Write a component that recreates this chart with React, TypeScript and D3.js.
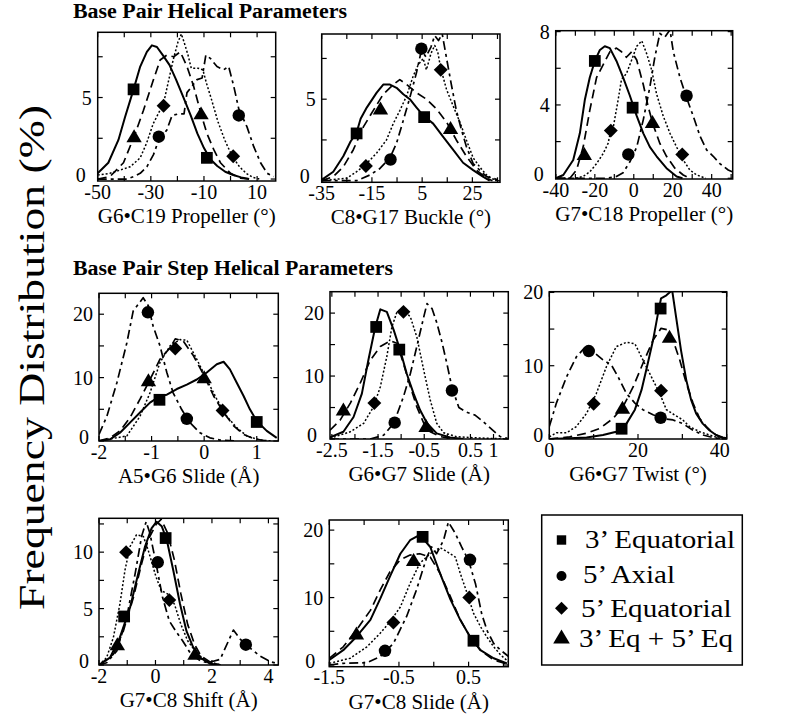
import React from "react";
import * as d3 from "d3";

type Pt = [number, number];

// ---------- Panel 1: G6•C19 Propeller ----------
const p1Eq3: Pt[] = [[-50,0.35],[-46,1.0],[-42.2,2.4],[-39.7,3.8],[-36.5,5.5],[-34,6.9],[-31.5,7.8],[-29.6,8.2],[-27.7,8.1],[-25.5,7.6],[-23,7.0],[-20.5,6.1],[-17.7,5.0],[-15,3.9],[-12.5,2.8],[-10,1.9],[-7.5,1.2],[-5,0.8],[-2,0.45],[1,0.25],[4,0.1],[7,0]];
const p1Ax5: Pt[] = [[-50,0],[-39,0],[-36.5,0.15],[-34,0.35],[-31.5,0.75],[-29,1.5],[-27,2.4],[-24,3.0],[-22,3.9],[-19.5,4.0],[-17.5,4.0],[-16.4,5.3],[-14.5,5.7],[-12.6,6.1],[-10.7,6.2],[-9.3,7.6],[-7.6,7.4],[-5.1,6.9],[-2.6,6.7],[-0.7,6.9],[1.2,5.7],[3.1,4.3],[6.2,3.2],[8.7,2.0],[11.3,1.0],[13.8,0.35],[16.3,0.15]];
const p1Eq5: Pt[] = [[-50,0.25],[-45.4,0.35],[-41.6,0.55],[-37.8,0.75],[-34,1.3],[-31.6,2.2],[-29.1,3.4],[-26.6,4.2],[-25.4,4.5],[-23.5,5.9],[-21.6,7.3],[-19.8,8.4],[-18.5,8.9],[-17.3,8.3],[-16,7.6],[-14.8,6.8],[-12.3,6.8],[-10.4,6.7],[-9.1,5.9],[-7.2,4.9],[-4.7,3.5],[-2.2,2.4],[0.6,1.4],[3.4,0.75],[5.9,0.35],[8.4,0.1],[10.9,0]];
const p1Both: Pt[] = [[-50,0],[-45.4,0.15],[-40.3,1.0],[-36.3,2.6],[-32.8,4.2],[-29,6.1],[-26.5,7.3],[-24,7.6],[-21.4,7.5],[-18.9,7.8],[-16.4,6.9],[-13.9,5.7],[-11.1,4.0],[-8.9,2.8],[-6.3,1.8],[-3.8,1.0],[0,0.35],[3.7,0.05],[7.5,0]];
const p1Eq3Mk: Pt[] = [[-36.5,5.5],[-8.9,1.3]];
const p1Ax5Mk: Pt[] = [[-27,2.6],[3.1,3.9]];
const p1Eq5Mk: Pt[] = [[-25.2,4.5],[1,1.4]];
const p1BothMk: Pt[] = [[-36.3,2.6],[-11.1,4.0]];

// ---------- Panel 2: C8•G17 Buckle ----------
const p2Eq3: Pt[] = [[-35,0.05],[-30.4,0.55],[-26.4,1.5],[-23.5,2.4],[-21.1,2.95],[-19.5,3.8],[-17,4.5],[-13.1,5.4],[-10.5,5.9],[-7.8,5.9],[-5.2,5.7],[-2.5,5.3],[0.1,5.0],[2.7,4.5],[5.4,4.0],[9.4,3.5],[13.3,2.7],[17.3,1.9],[21.3,1.1],[25.3,0.65],[29.2,0.25],[31.9,0]];
const p2Ax5: Pt[] = [[-35,0],[-21.1,0],[-15.8,0.35],[-11.8,0.75],[-7.8,1.4],[-5.2,2.3],[-2.5,3.7],[0.1,5.1],[2.7,6.6],[4.7,8.0],[6.5,7.6],[8.5,8.2],[10,8.9],[11.5,8.6],[13,9.0],[14.5,7.7],[16.5,6.0],[18.5,4.4],[20.5,3.2],[22.6,2.1],[25.3,1.05],[27.9,0.65],[30.6,0.25],[33.2,0.15],[36,0]];
const p2Eq5: Pt[] = [[-35,0],[-25,0.15],[-21.1,0.55],[-17.1,1.05],[-13.1,1.7],[-9.2,2.5],[-6.5,3.5],[-3.9,4.3],[-1.2,5.2],[1.4,6.4],[3.4,7.1],[5.4,7.5],[6.7,6.8],[8.5,7.8],[10,8.3],[11.2,7.9],[12.4,6.9],[14.7,5.6],[17.3,4.6],[20,3.6],[22.6,2.5],[25.3,1.4],[27.9,0.85],[30.6,0.35],[33.2,0.1],[36,0]];
const p2Both: Pt[] = [[-35,0],[-30.4,0.25],[-26.4,0.85],[-22.4,1.9],[-18.4,3.3],[-14.5,4.3],[-10.5,5.3],[-6.5,5.9],[-3.9,6.2],[-1.2,5.9],[2.7,5.4],[6.7,5.0],[10.7,4.4],[14.7,3.6],[18.6,2.5],[22.6,1.5],[26.6,0.65],[30.6,0.15],[33,0]];
const p2Eq3Mk: Pt[] = [[-21.1,2.9],[5.8,3.9]];
const p2Ax5Mk: Pt[] = [[-7.6,1.3],[4.7,8.1]];
const p2Eq5Mk: Pt[] = [[-17.4,0.9],[12.4,6.8]];
const p2BothMk: Pt[] = [[-11.6,4.4],[16.3,3.2]];

// ---------- Panel 3: G7•C18 Propeller ----------
const p3Eq3: Pt[] = [[-40,0],[-36.2,0.18],[-31.1,1.0],[-27.7,2.45],[-25.1,4.3],[-22.6,5.5],[-20,6.4],[-17.4,7.0],[-14.9,7.2],[-12.3,7.1],[-8.9,6.4],[-5.5,5.5],[-2,4.5],[1.5,3.4],[4.9,2.45],[8.3,1.7],[11.7,1.2],[16.8,0.55],[22,0.1],[25,0]];
const p3Ax5: Pt[] = [[-40,0],[-14,0],[-8.9,0.1],[-5.5,0.3],[-2,0.9],[1.5,1.7],[4.9,3.2],[8.3,5.0],[10.8,6.6],[13.4,7.9],[16,7.7],[18.6,8.1],[20.3,6.9],[23.7,5.5],[27.1,4.4],[30.5,3.4],[34,2.3],[37.4,1.55],[40.8,1.2],[44.2,0.8],[48.5,0.45],[50.5,0.35]];
const p3Eq5: Pt[] = [[-40,0],[-30,0],[-26,0.1],[-22.6,0.35],[-19.1,0.8],[-15.7,1.35],[-13.2,1.9],[-11.8,2.6],[-10.5,2.8],[-8,4.3],[-6.3,5.4],[-3.8,5.7],[-1.1,6.45],[1.5,7.2],[4.1,7.5],[6.6,6.8],[9.2,5.9],[11.7,4.6],[15.1,3.4],[18.6,2.45],[22,1.7],[25.4,1.0],[28.8,0.45],[32.3,0.18],[37,0]];
const p3Both: Pt[] = [[-40,0],[-32.8,0],[-29.4,0.45],[-26,1.7],[-22.6,3.7],[-19.1,5.5],[-15.7,6.2],[-12.3,6.9],[-8.9,7.1],[-6.3,6.9],[-3.8,6.6],[-1.1,6.9],[1.5,6.45],[4.9,5.1],[7.4,3.9],[10,2.9],[13.4,1.9],[16.8,1.2],[21.1,0.55],[25.4,0.18],[28.8,0]];
const p3Eq3Mk: Pt[] = [[-20,6.4],[-0.6,3.85]];
const p3Ax5Mk: Pt[] = [[-2.8,1.3],[27.1,4.5]];
const p3Eq5Mk: Pt[] = [[-11.8,2.6],[24.9,1.3]];
const p3BothMk: Pt[] = [[-25.4,1.3],[9.6,3.05]];

// ---------- Panel 4: A5•G6 Slide ----------
const p4Eq3: Pt[] = [[-2,0],[-1.79,0.26],[-1.6,1.3],[-1.41,2.9],[-1.22,4.5],[-1.03,6.05],[-0.84,7.1],[-0.71,7.3],[-0.52,8.2],[-0.33,8.9],[-0.14,9.7],[0.05,10.8],[0.24,12.1],[0.37,12.5],[0.49,11.3],[0.62,9.2],[0.75,7.1],[0.87,5.0],[1,3.15],[1.19,1.6],[1.38,0.5]];
const p4Ax5: Pt[] = [[-2,1.05],[-1.85,3.9],[-1.66,9.2],[-1.47,15.5],[-1.35,20.5],[-1.16,22.6],[-1.06,21.3],[-0.97,18.1],[-0.84,15.0],[-0.71,10.8],[-0.59,7.6],[-0.43,5.0],[-0.27,2.9],[-0.08,1.3],[0.11,0.5],[0.3,0.15],[0.6,0]];
const p4Eq5: Pt[] = [[-2,0],[-1.47,0.8],[-1.22,3.9],[-1.03,7.6],[-0.84,12.4],[-0.65,15.0],[-0.46,16.0],[-0.33,15.9],[-0.14,12.9],[0.05,9.7],[0.24,6.6],[0.43,3.9],[0.62,2.1],[0.81,0.8],[1.06,0.15],[1.3,0]];
const p4Both: Pt[] = [[-2,0],[-1.79,0.5],[-1.6,1.6],[-1.41,3.7],[-1.22,6.6],[-1.03,9.7],[-0.84,12.9],[-0.65,14.7],[-0.55,16.1],[-0.4,15.8],[-0.2,13.4],[0,10.3],[0.18,7.1],[0.37,4.5],[0.56,2.4],[0.75,1.05],[0.94,0.37],[1.2,0]];
const p4Eq3Mk: Pt[] = [[-0.85,6.5],[1,3.0]];
const p4Ax5Mk: Pt[] = [[-1.07,20.3],[-0.33,3.5]];
const p4Eq5Mk: Pt[] = [[-0.55,14.6],[0.35,4.8]];
const p4BothMk: Pt[] = [[-1.06,9.5],[0,10]];

// ---------- Panel 5: G6•G7 Slide ----------
const p5Eq3: Pt[] = [[-2.54,0.25],[-2.25,1.15],[-2.03,3.5],[-1.85,7.2],[-1.71,12.5],[-1.56,17.8],[-1.45,20.6],[-1.31,20.2],[-1.16,17.3],[-1.02,14.1],[-0.88,10.4],[-0.73,7.2],[-0.59,4.6],[-0.44,2.5],[-0.23,0.9],[0.06,0.25],[0.35,0]];
const p5Ax5: Pt[] = [[-2.54,0],[-1.67,0],[-1.38,0.6],[-1.16,2.5],[-0.95,6.7],[-0.8,10.4],[-0.66,14.7],[-0.51,19.4],[-0.44,21.5],[-0.33,20.7],[-0.23,18.5],[-0.12,15.5],[-0.01,12],[0.1,8.2],[0.25,5.0],[0.4,4.3],[0.6,3.8],[0.8,2.6],[1.0,1.3],[1.14,0.4],[1.3,0.1]];
const p5Eq5: Pt[] = [[-2.54,0.1],[-2.1,1.15],[-1.81,2.5],[-1.6,5.1],[-1.45,8.3],[-1.31,13.1],[-1.2,17.8],[-1.09,20.2],[-0.95,20.5],[-0.8,19.4],[-0.66,16.2],[-0.51,10.9],[-0.37,6.2],[-0.23,2.5],[-0.08,1.0],[0.2,0.37],[0.56,0.2],[0.92,0.1],[1.3,0]];
const p5Both: Pt[] = [[-2.54,1.4],[-2.32,3.0],[-2.1,5.7],[-1.89,8.8],[-1.67,12.5],[-1.45,14.7],[-1.23,15.6],[-1.09,15.2],[-0.95,12.0],[-0.8,8.3],[-0.66,5.1],[-0.51,2.5],[-0.37,1.15],[-0.15,0.37],[0.15,0]];
const p5Eq3Mk: Pt[] = [[-1.54,17.8],[-1.04,14.2]];
const p5Ax5Mk: Pt[] = [[-1.14,2.6],[0.1,7.7]];
const p5Eq5Mk: Pt[] = [[-1.58,5.7],[-0.95,20.2]];
const p5BothMk: Pt[] = [[-2.25,4.6],[-0.46,2.0]];

// ---------- Panel 6: G6•G7 Twist ----------
const p6Eq3: Pt[] = [[0,0],[4.6,0.1],[8.4,0.2],[12.1,0.55],[15.1,1.0],[17.4,2.1],[19.3,4.0],[20.8,6.7],[22.2,10.3],[23.4,13.5],[24.5,17.1],[25.2,19.2],[26.4,19.6],[27.7,20.3],[28.6,16.6],[29.7,12.1],[30.9,8.0],[32,5.3],[33.1,3.5],[34.6,2.1],[36.1,1.2],[37.6,0.55],[39.1,0.2],[40,0.1]];
const p6Ax5: Pt[] = [[0,1.7],[1.6,4.9],[3.9,8.5],[6.1,11.2],[7.9,12.4],[9.9,11.9],[12.1,10.8],[14,10.1],[15.5,8.5],[17.4,6.2],[19.3,4.9],[21.1,4.0],[23.4,3.3],[25.6,2.8],[27.9,2.6],[30.1,2.1],[32.4,1.2],[34.6,0.55],[36.9,0.2],[39,0]];
const p6Eq5: Pt[] = [[0,0.3],[1.6,0.85],[3.9,0.85],[6.1,1.7],[8.4,3.5],[10.6,6.2],[12.9,9.9],[15.1,12.6],[17.4,13.2],[19.3,13.0],[21.1,10.8],[23,8.5],[24.9,6.2],[26.4,4.0],[28.2,3.3],[30.1,2.6],[31.6,1.7],[33.9,1.0],[36.1,0.55],[38.4,0.1],[40,0]];
const p6Both: Pt[] = [[0,0],[4.6,0.3],[8.4,0.8],[11.4,1.45],[14.4,2.8],[16.6,4.4],[18.9,7.1],[21.1,10.3],[23.4,13.5],[25.2,15.1],[26.7,14.9],[27.9,13.5],[29.4,10.8],[30.9,7.6],[32.4,4.9],[33.9,2.8],[35.4,1.7],[36.9,0.8],[38.4,0.3],[40,0.05]];
const p6Eq3Mk: Pt[] = [[16.3,1.4],[25.1,17.8]];
const p6Ax5Mk: Pt[] = [[8.9,12.0],[25.1,2.9]];
const p6Eq5Mk: Pt[] = [[10,4.8],[25.2,6.6]];
const p6BothMk: Pt[] = [[16.5,4.2],[27.1,13.9]];

// ---------- Panel 7: G7•C8 Shift ----------
const p7Eq3: Pt[] = [[-2,0],[-1.61,0.65],[-1.26,2.45],[-0.9,5.1],[-0.61,8.1],[-0.37,10.5],[-0.14,12.1],[0.04,12.7],[0.22,12.3],[0.4,11.1],[0.63,8.4],[0.87,5.4],[1.1,3.0],[1.34,1.55],[1.58,0.65],[1.93,0.12],[2.3,0]];
const p7Ax5: Pt[] = [[-2,0],[-1.73,0.2],[-1.37,1.25],[-1.02,4.2],[-0.72,8.1],[-0.49,11.4],[-0.33,12.7],[-0.2,11.7],[0.02,9.0],[0.25,6.0],[0.49,3.9],[0.72,3.0],[0.96,2.15],[1.26,0.95],[1.61,0.35],[1.85,0.2],[2.29,0.5],[2.76,3.1],[3.0,2.3],[3.35,1.5],[3.7,0.8],[4.06,0.3],[4.35,0.1]];
const p7Eq5: Pt[] = [[-2,0],[-1.73,0.65],[-1.49,2.45],[-1.26,5.4],[-1.08,8.4],[-0.9,10.5],[-0.67,11.55],[-0.43,11.4],[-0.26,10.2],[0.02,7.8],[0.2,6.6],[0.43,6.3],[0.67,5.4],[0.9,3.6],[1.14,2.15],[1.49,0.95],[1.84,0.35],[2.3,0]];
const p7Both: Pt[] = [[-2,0],[-1.49,0.95],[-1.14,3.0],[-0.78,6.0],[-0.49,9.0],[-0.26,11.1],[0.02,12.45],[0.2,12.9],[0.43,11.7],[0.67,9.3],[0.9,6.3],[1.14,3.6],[1.38,1.85],[1.61,0.8],[1.97,0.2],[2.3,0]];
const p7Eq3Mk: Pt[] = [[0.36,11.25],[-1.11,4.3]];
const p7Ax5Mk: Pt[] = [[0.08,9.1],[3.2,1.8]];
const p7Eq5Mk: Pt[] = [[-1.04,10.0],[0.49,5.75]];
const p7BothMk: Pt[] = [[-1.35,1.8],[1.4,0.95]];

// ---------- Panel 8: G7•C8 Slide ----------
const p8Eq3: Pt[] = [[-1.5,0.75],[-1.3,2.2],[-1.11,4.2],[-0.91,6.7],[-0.77,9.8],[-0.63,13.1],[-0.48,16.5],[-0.34,18.5],[-0.2,19.3],[-0.05,17.5],[0.09,13.6],[0.24,9.7],[0.38,6.7],[0.52,4.2],[0.67,2.2],[0.86,1.0],[1.05,0.25]];
const p8Ax5: Pt[] = [[-1.5,0],[-1.3,0.25],[-0.96,0.35],[-0.77,1.25],[-0.58,3.2],[-0.39,7.2],[-0.25,11.1],[-0.1,16.0],[-0.03,17.5],[0.04,16.5],[0.14,18.5],[0.21,21.2],[0.31,19.5],[0.4,17.5],[0.5,15.5],[0.6,12],[0.69,7.5],[0.77,5],[0.86,3.2],[0.96,2.2],[1.07,1.3]];
const p8Eq5: Pt[] = [[-1.5,0.25],[-1.2,1.0],[-0.96,2.7],[-0.77,4.7],[-0.63,6.4],[-0.48,8.6],[-0.34,12.1],[-0.2,15.1],[-0.05,16.5],[0.09,17.4],[0.19,16.8],[0.31,16.0],[0.38,13.6],[0.48,10.6],[0.57,7.7],[0.67,5.7],[0.76,4.2],[0.86,2.7],[0.96,1.5],[1.07,0.5]];
const p8Both: Pt[] = [[-1.5,1.0],[-1.3,2.7],[-1.11,5.2],[-0.91,8.1],[-0.77,11.1],[-0.63,13.8],[-0.48,15.6],[-0.34,16.3],[-0.2,16.5],[-0.05,16.0],[0.09,13.6],[0.24,10.1],[0.38,6.7],[0.52,4.2],[0.67,2.2],[0.86,0.75],[1.05,0.15]];
const p8Eq3Mk: Pt[] = [[-0.16,19.0],[0.57,3.6]];
const p8Ax5Mk: Pt[] = [[-0.7,2.1],[0.52,15.6]];
const p8Eq5Mk: Pt[] = [[-0.58,6.3],[0.51,10.0]];
const p8BothMk: Pt[] = [[-1.11,4.6],[-0.29,15.5]];

// ---------- Axis titles, ticks, legend ----------
const axisTitles = [
  "G6•C19 Propeller (°)", "C8•G17 Buckle (°)", "G7•C18 Propeller (°)",
  "A5•G6 Slide (Å)", "G6•G7 Slide (Å)", "G6•G7 Twist (°)",
  "G7•C8 Shift (Å)", "G7•C8 Slide (Å)",
];
const xTickSets = [
  [-50,-40,-30,-20,-10,0,10],
  [-35,-25,-15,-5,5,15,25,35],
  [-40,-30,-20,-10,0,10,20,30,40,50],
  [-2,-1.5,-1,-0.5,0,0.5,1],
  [-2.5,-2,-1.5,-1,-0.5,0,0.5,1],
  [0,10,20,30,40],
  [-2,-1,0,1,2,3,4],
  [-1.5,-1,-0.5,0,0.5,1],
];
const xLabelSets = [
  [-50,-30,-10,10],
  [-35,-15,5,25],
  [-40,-20,0,20,40],
  [-2,-1,0,1],
  [-2.5,-1.5,-0.5,0.5,1],
  [0,20,40],
  [-2,0,2,4],
  [-1.5,-0.5,0.5],
];
const yTickSets = [
  [0,2.5,5,7.5],
  [0,2.5,5,7.5],
  [0,2,4,6,8],
  [0,5,10,15,20],
  [0,5,10,15,20],
  [0,5,10,15,20],
  [0,2.5,5,7.5,10,12.5],
  [0,5,10,15,20],
];
const yLabelSets = [
  [0,5],[0,5],[0,4,8],[0,10,20],[0,10,20],[0,10,20],[0,5,10],[0,10,20],
];
const legendLabels = ["3’ Equatorial", "5’ Axial", "5’ Equatorial", "3’ Eq + 5’ Eq"];
const sectionTitles = ["Base Pair Helical Parameters", "Base Pair Step Helical Parameters"];
const yAxisTitle = "Frequency Distribution (%)";

const seriesData: Pt[][][] = [
  [p1Eq3, p1Ax5, p1Eq5, p1Both],
  [p2Eq3, p2Ax5, p2Eq5, p2Both],
  [p3Eq3, p3Ax5, p3Eq5, p3Both],
  [p4Eq3, p4Ax5, p4Eq5, p4Both],
  [p5Eq3, p5Ax5, p5Eq5, p5Both],
  [p6Eq3, p6Ax5, p6Eq5, p6Both],
  [p7Eq3, p7Ax5, p7Eq5, p7Both],
  [p8Eq3, p8Ax5, p8Eq5, p8Both],
];
const markerData: Pt[][][] = [
  [p1Eq3Mk, p1Ax5Mk, p1Eq5Mk, p1BothMk],
  [p2Eq3Mk, p2Ax5Mk, p2Eq5Mk, p2BothMk],
  [p3Eq3Mk, p3Ax5Mk, p3Eq5Mk, p3BothMk],
  [p4Eq3Mk, p4Ax5Mk, p4Eq5Mk, p4BothMk],
  [p5Eq3Mk, p5Ax5Mk, p5Eq5Mk, p5BothMk],
  [p6Eq3Mk, p6Ax5Mk, p6Eq5Mk, p6BothMk],
  [p7Eq3Mk, p7Ax5Mk, p7Eq5Mk, p7BothMk],
  [p8Eq3Mk, p8Ax5Mk, p8Eq5Mk, p8BothMk],
];

// ---------- Layout (pixels) ----------
type Layout = { box: [number, number, number, number]; xd: [number, number]; yd: [number, number]; lastLabelDx?: number; zeroDx: number };
const layouts: Layout[] = [
  { box: [97.7, 32.3, 275.7, 181], xd: [-50, 17], yd: [-0.12, 9], zeroDx: -12 },
  { box: [321.7, 34, 500, 182.3], xd: [-35, 36], yd: [-0.1, 9], zeroDx: -12 },
  { box: [555.7, 30.7, 732.7, 179], xd: [-40.1, 50.8], yd: [-0.04, 8.05], zeroDx: -12 },
  { box: [99, 293.3, 278.3, 441], xd: [-2, 1.41], yd: [0, 23.3], zeroDx: -10 },
  { box: [330, 291.7, 508.3, 439], xd: [-2.54, 1.32], yd: [0, 23.4], zeroDx: -13 },
  { box: [549.3, 291.7, 726.7, 439], xd: [0, 40], yd: [0, 20.1], lastLabelDx: -7, zeroDx: -6 },
  { box: [99, 518.3, 278.3, 665], xd: [-2, 4.35], yd: [0, 13], zeroDx: -10 },
  { box: [329.3, 520, 508.3, 666.7], xd: [-1.5, 1.07], yd: [-0.25, 21.5], zeroDx: -14 },
];

const FONT = "'Liberation Serif', 'Times New Roman', Times, serif";
const lineStyles = [
  { dash: undefined as string | undefined, w: 2.0 },
  { dash: "9,4,3,4", w: 1.7 },
  { dash: "2,2", w: 1.5 },
  { dash: "9,5", w: 1.7 },
];
const kinds = ["square", "circle", "diamond", "triangle"];

function Marker({ kind, x, y, s }: { kind: string; x: number; y: number; s: number }) {
  if (kind === "square") return <rect x={x - s * 0.49} y={y - s * 0.49} width={s * 0.98} height={s * 0.98} fill="#000" />;
  if (kind === "circle") return <circle cx={x} cy={y} r={s * 0.52} fill="#000" />;
  if (kind === "diamond") {
    const h = s * 0.58;
    return <polygon points={`${x},${y - h} ${x + h},${y} ${x},${y + h} ${x - h},${y}`} fill="#000" />;
  }
  const hw = s * 0.64, up = s * 0.62, dn = s * 0.46;
  return <polygon points={`${x},${y - up} ${x + hw},${y + dn} ${x - hw},${y + dn}`} fill="#000" />;
}

function Panel({ i }: { i: number }) {
  const { box, xd, yd, lastLabelDx, zeroDx } = layouts[i];
  const [l, t, r, b] = box;
  const x = d3.scaleLinear().domain(xd).range([l, r]);
  const y = d3.scaleLinear().domain(yd).range([b, t]);
  const line = d3.line<Pt>().x((d) => x(d[0])).y((d) => y(d[1]));
  const clipId = `clip${i}`;
  const tk = 5;
  const cx = (l + r) / 2;
  const xl = xLabelSets[i];
  return (
    <g>
      <defs>
        <clipPath id={clipId}>
          <rect x={l} y={t} width={r - l} height={b - t} />
        </clipPath>
      </defs>
      <g clipPath={`url(#${clipId})`}>
        {seriesData[i].map((d, k) => (
          <path key={k} d={line(d) || ""} fill="none" stroke="#000" strokeWidth={lineStyles[k].w}
            strokeDasharray={lineStyles[k].dash} strokeLinejoin="round" />
        ))}
      </g>
      {markerData[i].map((ms, k) =>
        ms.map((m, j) => <Marker key={`${k}-${j}`} kind={kinds[k]} x={x(m[0])} y={y(m[1])} s={12} />)
      )}
      <rect x={l} y={t} width={r - l} height={b - t} fill="none" stroke="#000" strokeWidth={1.5} />
      {xTickSets[i].map((v) => (
        <g key={`xt${v}`}>
          <line x1={x(v)} x2={x(v)} y1={b} y2={b - tk} stroke="#000" strokeWidth={1.2} />
          <line x1={x(v)} x2={x(v)} y1={t} y2={t + tk} stroke="#000" strokeWidth={1.2} />
        </g>
      ))}
      {yTickSets[i].map((v) => (
        <g key={`yt${v}`}>
          <line x1={l} x2={l + tk} y1={y(v)} y2={y(v)} stroke="#000" strokeWidth={1.2} />
          <line x1={r} x2={r - tk} y1={y(v)} y2={y(v)} stroke="#000" strokeWidth={1.2} />
        </g>
      ))}
      {xl.map((v, j) => (
        <text key={`xl${v}`} x={x(v) + (j === xl.length - 1 && lastLabelDx ? lastLabelDx : 0)} y={b + 17.5}
          fontSize={20} textAnchor="middle">{String(v)}</text>
      ))}
      {yLabelSets[i].map((v) => (
        <text key={`yl${v}`} x={l + (v === 0 ? zeroDx : -6)} y={y(v) + (v === 0 ? 2.5 : 7)} fontSize={20} textAnchor="end">{String(v)}</text>
      ))}
      <text x={cx} y={b + 42} fontSize={21} textAnchor="middle">{axisTitles[i]}</text>
    </g>
  );
}

export default function App() {
  const legendRows = [548, 582.5, 617, 646.5];
  const legendSymY = [540, 576, 608.3, 637.5];
  const legendTextX = [585, 583, 581, 579];
  const legendTextW = [150, 92, 150.5, 154];
  const legendSym = [9.6, 9.6, 11.2, 13];
  return (
    <svg width={785} height={719} viewBox="0 0 785 719"
      style={{ position: "absolute", left: 0, top: 0, background: "#fff" }}
      fontFamily={FONT} fill="#000">
      <text x={73} y={17.5} fontSize={20} fontWeight="bold" textLength={274} lengthAdjust="spacingAndGlyphs">{sectionTitles[0]}</text>
      <text x={73} y={275} fontSize={20} fontWeight="bold" textLength={320} lengthAdjust="spacingAndGlyphs">{sectionTitles[1]}</text>
      <text transform="translate(44,357.5) rotate(-90)" fontSize={36} textAnchor="middle" textLength={505} lengthAdjust="spacingAndGlyphs">{yAxisTitle}</text>
      {layouts.map((_, i) => <Panel key={i} i={i} />)}
      <rect x={541.7} y={515} width={200.6} height={150} fill="none" stroke="#000" strokeWidth={1.5} />
      {legendLabels.map((lab, k) => (
        <g key={lab}>
          <Marker kind={kinds[k]} x={561.5} y={legendSymY[k]} s={legendSym[k]} />
          <text x={legendTextX[k]} y={legendRows[k]} fontSize={26} textLength={legendTextW[k]} lengthAdjust="spacingAndGlyphs">{lab}</text>
        </g>
      ))}
    </svg>
  );
}
